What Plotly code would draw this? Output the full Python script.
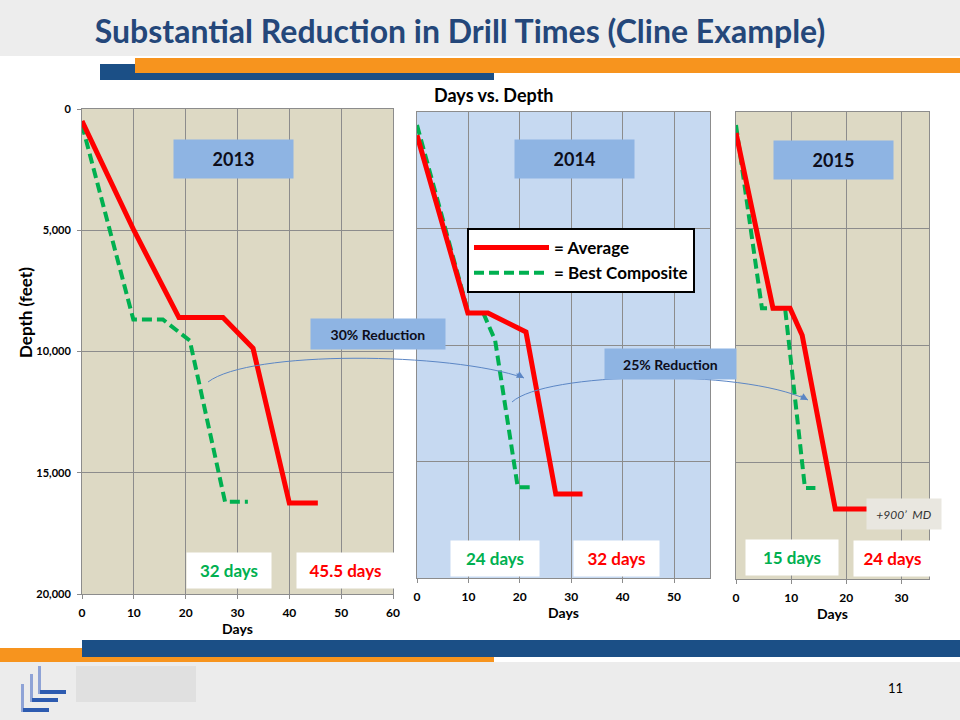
import plotly.graph_objects as go
from plotly.subplots import make_subplots


# Days vs. depth (depth in feet)
DAYS_2013_AVG = [0, 10, 18.7, 27.2, 33, 40, 45.5]
DEPTH_2013_AVG = [500, 5000, 8600, 8600, 9870, 16250, 16250]
DAYS_2013_BEST = [0, 9.9, 15.6, 20.8, 27.6, 32]
DEPTH_2013_BEST = [650, 8680, 8680, 9550, 16200, 16200]

DAYS_2014_AVG = [0, 9.9, 13.8, 21.2, 27, 32.2]
DEPTH_2014_AVG = [1000, 8630, 8630, 9440, 16400, 16400]
DAYS_2014_BEST = [0, 10, 12.9, 15.2, 19.6, 22.5]
DEPTH_2014_BEST = [560, 8630, 8630, 9800, 16100, 16100]

DAYS_2015_AVG = [0, 6.7, 9.8, 12, 18, 24]
DEPTH_2015_AVG = [900, 8400, 8400, 9560, 17000, 17000]
DAYS_2015_BEST = [0, 4.7, 8.9, 12.5, 14.4]
DEPTH_2015_BEST = [560, 8400, 8400, 16100, 16100]

YEARS = ["2013", "2014", "2015"]
BEST_LABELS = ["32 days", "24 days", "15 days"]
AVG_LABELS = ["45.5 days", "32 days", "24 days"]
X_MAX = [60, 57, 35]
REDUCTIONS = ["30% Reduction", "25% Reduction"]

FONT = "Lato"
RED = "#FF0000"
GREEN = "#00B050"
TAN = "#DDD9C4"
LIGHT_BLUE = "#C6D9F1"
BOX_BLUE = "#8EB4E3"
TITLE_BLUE = "#24477A"
GRID = "#8C8C8C"
ORANGE = "#F7941E"
NAVY = "#1B4F86"


def px_x(x):
    return x / 960


def px_y(y):
    return 1 - y / 720


fig = make_subplots(rows=1, cols=3)

panels = [
    (DAYS_2013_AVG, DEPTH_2013_AVG, DAYS_2013_BEST, DEPTH_2013_BEST),
    (DAYS_2014_AVG, DEPTH_2014_AVG, DAYS_2014_BEST, DEPTH_2014_BEST),
    (DAYS_2015_AVG, DEPTH_2015_AVG, DAYS_2015_BEST, DEPTH_2015_BEST),
]
for i, (da, za, db, zb) in enumerate(panels):
    fig.add_trace(
        go.Scatter(
            x=db, y=zb, mode="lines", name="= Best Composite",
            line=dict(color=GREEN, width=4, dash="10px,5px"),
            showlegend=(i == 1), legendrank=2,
        ),
        row=1, col=i + 1,
    )
    fig.add_trace(
        go.Scatter(
            x=da, y=za, mode="lines", name="= Average",
            line=dict(color=RED, width=5),
            showlegend=(i == 1), legendrank=1,
        ),
        row=1, col=i + 1,
    )

# panel positions in pixels (left, right, top, bottom)
boxes = [(82, 393, 109, 594), (417, 710, 112, 578), (736, 929, 112, 579)]
plot_bgs = [TAN, LIGHT_BLUE, TAN]

shapes = []
for i, (l, r, t, b) in enumerate(boxes):
    n = "" if i == 0 else str(i + 1)
    fig.layout["xaxis" + n].update(
        domain=[px_x(l), px_x(r)], range=[0, X_MAX[i]], dtick=10,
        showgrid=True, gridcolor=GRID, gridwidth=1, zeroline=False,
        showline=True, linecolor=GRID, mirror=True, automargin=False,
        ticks="outside", ticklen=4, tickcolor=GRID, ticklabelstandoff=4,
        tickfont=dict(family=FONT, size=12, color="#000", weight="bold"),
        title=dict(text="Days", standoff=2,
                   font=dict(family=FONT, size=14, color="#000", weight="bold")),
    )
    fig.layout["yaxis" + n].update(
        domain=[px_y(b), px_y(t)], range=[20000, 0], dtick=5000,
        tickformat=",", showgrid=True, gridcolor=GRID, gridwidth=1,
        zeroline=False, showline=True, linecolor=GRID, mirror=True,
        automargin=False,
        ticks="outside" if i == 0 else "", ticklen=4, tickcolor=GRID,
        ticklabelstandoff=4, showticklabels=(i == 0),
        tickfont=dict(family=FONT, size=11, color="#000", weight="bold"),
    )
    shapes.append(dict(
        type="rect", xref="x" + n + " domain", yref="y" + n + " domain",
        x0=0, x1=1, y0=0, y1=1, fillcolor=plot_bgs[i], line_width=0,
        layer="below",
    ))

# slide decoration
shapes += [
    dict(type="rect", xref="paper", yref="paper", x0=0, x1=1, y0=px_y(56), y1=1,
         fillcolor="#EDEDED", line_width=0, layer="below"),
    dict(type="rect", xref="paper", yref="paper", x0=0, x1=1, y0=0, y1=px_y(662),
         fillcolor="#ECECEC", line_width=0, layer="below"),
    dict(type="rect", xref="paper", yref="paper", x0=px_x(76), x1=px_x(196),
         y0=px_y(702), y1=px_y(666), fillcolor="#E0E0E0", line_width=0, layer="below"),
    dict(type="rect", xref="paper", yref="paper", x0=px_x(100), x1=px_x(494),
         y0=px_y(80), y1=px_y(64), fillcolor=NAVY, line_width=0),
    dict(type="rect", xref="paper", yref="paper", x0=px_x(135), x1=1,
         y0=px_y(73), y1=px_y(58), fillcolor=ORANGE, line_width=0),
    dict(type="rect", xref="paper", yref="paper", x0=0, x1=px_x(494),
         y0=px_y(662), y1=px_y(648), fillcolor=ORANGE, line_width=0),
    dict(type="rect", xref="paper", yref="paper", x0=px_x(82), x1=1,
         y0=px_y(657), y1=px_y(640), fillcolor=NAVY, line_width=0),
]

# logo: three stacked L marks
for vx, hy in [(21, 712), (30, 702), (38, 694)]:
    shapes.append(dict(type="rect", xref="paper", yref="paper",
                       x0=px_x(vx), x1=px_x(vx + 3), y0=px_y(hy), y1=px_y(hy - 28),
                       fillcolor="#8FA3D6", line_width=0))
    shapes.append(dict(type="rect", xref="paper", yref="paper",
                       x0=px_x(vx + 2), x1=px_x(vx + 28), y0=px_y(hy), y1=px_y(hy - 4),
                       fillcolor="#2D5BB0", line_width=0))

# curved reduction arrows
arrows = [
    ((208, 382), (250, 350), (450, 352), (524, 378)),
    ((512, 402), (545, 372), (740, 368), (808, 400)),
]
for p0, c1, c2, p1 in arrows:
    path = "M {},{} C {},{} {},{} {},{}".format(
        px_x(p0[0]), px_y(p0[1]), px_x(c1[0]), px_y(c1[1]),
        px_x(c2[0]), px_y(c2[1]), px_x(p1[0]), px_y(p1[1]),
    )
    shapes.append(dict(type="path", xref="paper", yref="paper", path=path,
                       line=dict(color="#5B86C5", width=1)))

annotations = []
for p0, c1, c2, p1 in arrows:
    annotations.append(dict(
        xref="paper", yref="paper", x=px_x(p1[0]), y=px_y(p1[1]), text="",
        showarrow=True, arrowhead=2, arrowsize=1.2, arrowwidth=1.2,
        arrowcolor="#5B86C5", ax=-9, ay=-5,
    ))

# year boxes and day labels, placed in each panel's data space
year_pos = [(29.2, 2080), (30.7, 2020), (17.6, 2060)]
best_pos = [(28.4, 19050), (15.1, 19180), (10.2, 19080)]
avg_pos = [(50.9, 19050), (38.8, 19180), (28.4, 19140)]
box_w = [(82, 95), (86, 83), (90, 75)]
for i in range(3):
    n = "" if i == 0 else str(i + 1)
    annotations.append(dict(
        xref="x" + n, yref="y" + n, x=year_pos[i][0], y=year_pos[i][1],
        text="<b>" + YEARS[i] + "</b>", showarrow=False, width=117, height=36,
        bgcolor=BOX_BLUE, font=dict(family=FONT, size=18, color="#0D0D1A"),
    ))
    annotations.append(dict(
        xref="x" + n, yref="y" + n, x=best_pos[i][0], y=best_pos[i][1],
        text="<b>" + BEST_LABELS[i] + "</b>", showarrow=False,
        width=box_w[i][0], height=33, bgcolor="white",
        font=dict(family=FONT, size=17, color=GREEN),
    ))
    annotations.append(dict(
        xref="x" + n, yref="y" + n, x=avg_pos[i][0], y=avg_pos[i][1],
        text="<b>" + AVG_LABELS[i] + "</b>", showarrow=False,
        width=box_w[i][1], height=33, bgcolor="white",
        font=dict(family=FONT, size=17, color=RED),
    ))

centered = dict(xref="paper", yref="paper", xanchor="center", yanchor="middle",
                showarrow=False)
annotations += [
    dict(centered, x=px_x(378), y=px_y(334),
         text="<b>" + REDUCTIONS[0] + "</b>", width=132, height=28,
         bgcolor=BOX_BLUE, font=dict(family=FONT, size=14, color="#0D0D1A")),
    dict(centered, x=px_x(670), y=px_y(364),
         text="<b>" + REDUCTIONS[1] + "</b>", width=129, height=28,
         bgcolor=BOX_BLUE, font=dict(family=FONT, size=14, color="#0D0D1A")),
    dict(centered, x=px_x(904), y=px_y(514),
         text="<i>+900\u2019  MD</i>", width=72, height=28,
         bgcolor="#E9E7E0", font=dict(family=FONT, size=12, color="#333")),
    dict(centered, x=px_x(494), y=px_y(95),
         text="<b>Days vs. Depth</b>",
         font=dict(family=FONT, size=18, color="#000")),
    dict(centered, x=px_x(25), y=px_y(313),
         text="<b>Depth (feet)</b>", textangle=-90,
         font=dict(family=FONT, size=17, color="#000")),
    dict(centered, x=px_x(895), y=px_y(688),
         text="11", font=dict(family=FONT, size=13, color="#000")),
]

fig.update_layout(
    width=960, height=720,
    margin=dict(l=0, r=0, t=0, b=0, autoexpand=False),
    paper_bgcolor="white", plot_bgcolor="rgba(0,0,0,0)",
    title=dict(
        text="<b>Substantial Reduction in Drill Times (Cline Example)</b>",
        x=px_x(460), xanchor="center", y=px_y(32), yanchor="middle",
        font=dict(family=FONT, size=32, color=TITLE_BLUE),
    ),
    legend=dict(
        x=px_x(467), y=px_y(228), xanchor="left", yanchor="top",
        bgcolor="white", bordercolor="black", borderwidth=2,
        itemwidth=75, tracegroupgap=0,
        font=dict(family=FONT, size=17, color="#000", weight="bold"),
    ),
    shapes=shapes,
    annotations=annotations,
)

# drop the default page margin so the 960x720 figure fills the window
fig.write_html(
    "out.html",
    config={"displayModeBar": False},
    post_script="document.body.style.margin='0';document.body.style.overflow='hidden';",
)
